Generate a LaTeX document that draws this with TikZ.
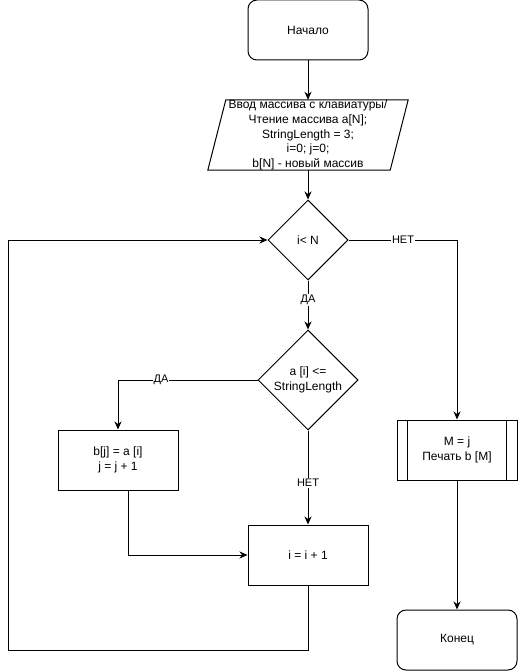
\documentclass[tikz,border=0pt]{standalone}
\usepackage{fontspec}
\setmainfont{Liberation Sans}
\usetikzlibrary{shapes.geometric,arrows.meta}

\tikzset{
  base/.style={draw=black, line width=1pt, inner sep=0pt, align=center,
    font=\fontsize{12}{15}\selectfont},
  terminal/.style={base, rounded corners=9pt, minimum width=120pt, minimum height=60pt},
  process/.style={base, minimum width=120pt, minimum height=60pt},
  iobox/.style={inner sep=0pt, align=center, minimum width=200pt, minimum height=70pt,
    font=\fontsize{12}{14.6}\selectfont},
  decision/.style={base, diamond, shape aspect=1},
  txt/.style={inner sep=0pt, align=center, font=\fontsize{12}{15}\selectfont},
  lbl/.style={fill=white, inner sep=1pt, font=\fontsize{11}{13}\selectfont},
  arr/.style={line width=1pt, -{Stealth[length=8pt,width=7pt,inset=2.5pt]}},
  wire/.style={line width=1pt}
}

\begin{document}
\begin{tikzpicture}[x=1pt,y=-1pt]
\useasboundingbox (0,0) rectangle (518,671);

% start
\node[terminal] (start) at (308,30) {Начало};

% input / initialisation (parallelogram)
\node[iobox] (io) at (308,135) {Ввод массива с клавиатуры/\\Чтение массива a[N];\\StringLength = 3;\\i=0; j=0;\\b[N] - новый массив};
\draw[line width=1pt] ([xshift=18pt]io.north west) -- (io.north east)
  -- ([xshift=-18pt]io.south east) -- (io.south west) -- cycle;

% loop condition
\node[decision, minimum width=80pt, minimum height=80pt] (d1) at (308,240) {};
\node[txt] (d1t) at (d1) {i< N};

% element check
\node[decision, minimum width=100pt, minimum height=100pt] (d2) at (308,380) {};
\node[txt] (d2t) at (d2) {a [i] <=\\StringLength};

% copy element
\node[process] (copy) at (118,460) {b[j] = a [i]\\j = j + 1};

% increment
\node[process] (inc) at (308,555) {i = i + 1};

% output (predefined process)
\node[process] (out) at (457,450) {M = j\\Печать b [M]};
\draw[wire] ([xshift=11pt]out.north west) -- ([xshift=11pt]out.south west);
\draw[wire] ([xshift=-11pt]out.north east) -- ([xshift=-11pt]out.south east);

% end
\node[terminal] (end) at (457,640) {Конец};

% bends of the connectors
\coordinate (c1) at (457,240);
\coordinate (c2) at (118,380);
\coordinate (c3) at (8,650);

% connectors
\draw[arr] (start) -- (io);
\draw[arr] (io.south) -- (d1.north);
\draw[arr] (d1.east) -- (c1) -- (out.north);
\node[lbl] at (403,240) {НЕТ};
\draw[arr] (d1.south) -- (d2.north);
\node[lbl] at (308,300) {ДА};
\draw[arr] (d2.west) -- (c2) -- (copy.north);
\node[lbl] at (161,380) {ДА};
\draw[arr] (d2.south) -- (inc.north);
\node[lbl] at (308,483) {НЕТ};
\draw[arr] ([xshift=10pt]copy.south) |- (inc.west);
\draw[arr] (inc.south) |- (c3) |- (d1.west);
\draw[arr] (out.south) -- (end.north);
\end{tikzpicture}
\end{document}
